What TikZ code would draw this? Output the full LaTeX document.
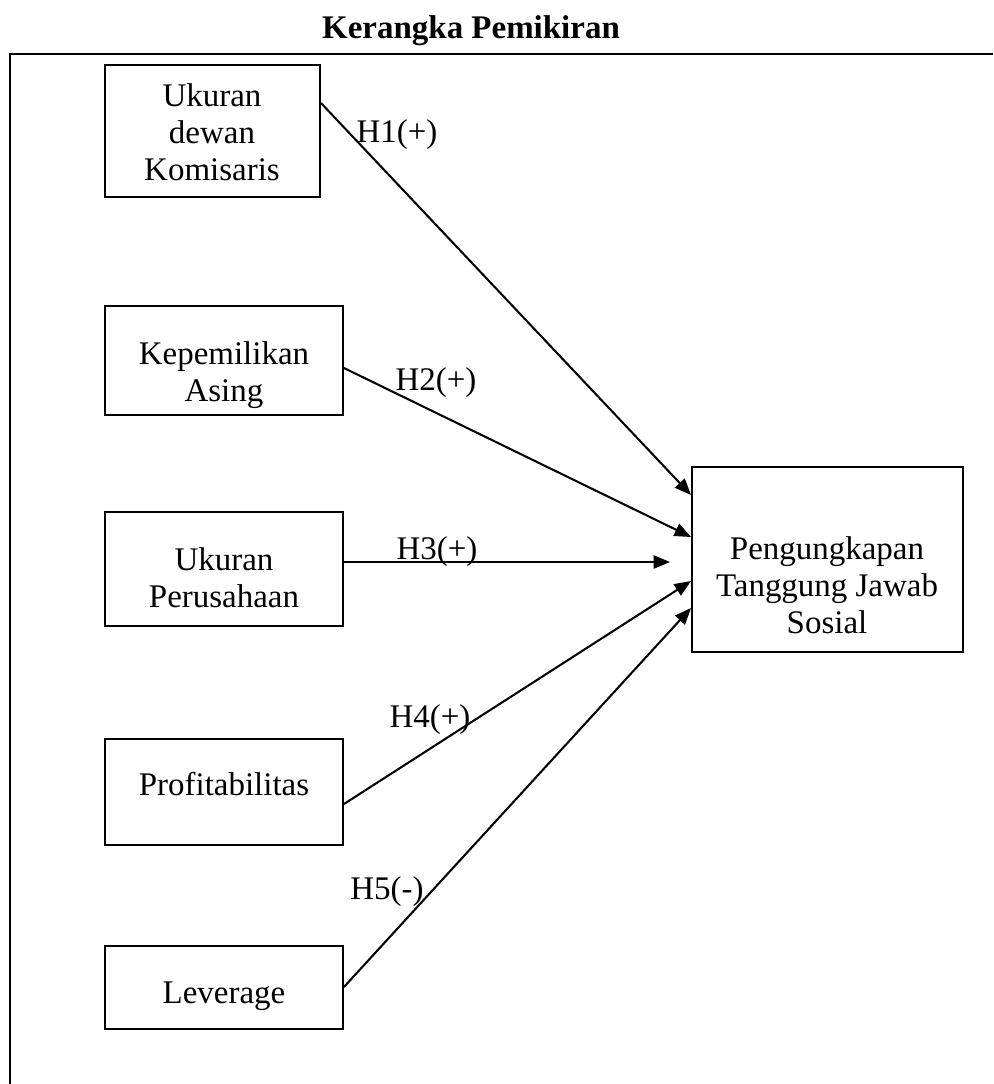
\documentclass[tikz,border=0pt]{standalone}
\usepackage{fontspec}
\setmainfont{Liberation Serif}
\usetikzlibrary{arrows.meta,positioning,fit,calc}

\begin{document}
\begin{tikzpicture}[x=0.364pt,y=-0.364pt,
    kotak/.style={draw,line width=0.7pt,inner sep=0pt},
    teks/.style={align=center,inner sep=0pt,font=\fontsize{12pt}{13.4pt}\selectfont},
    panah/.style={line width=0.75pt,-{Triangle[length=6pt,width=4.8pt]}}]
    \useasboundingbox (0,0) rectangle (993,1084);
    % Frame
    \draw[line width=1pt] (993,54) -- (10,54) -- (10,1084);
    % Title
    \node[teks,font=\bfseries\fontsize{12pt}{13.4pt}\selectfont] (judul) at (471,31) {Kerangka Pemikiran};

    % Independent variables
    \node[kotak,fit={(105,65) (320,197)}] (dewan) {};
    \node[teks] (dewantxt) at (212,132) {Ukuran\\dewan\\Komisaris};
    \node[kotak,fit={(105,306) (343,415)}] (asing) {};
    \node[teks] (asingtxt) at (224,375) {Kepemilikan\\Asing};
    \node[kotak,fit={(105,512) (343,626)}] (ukuran) {};
    \node[teks] (ukurantxt) at (224,578) {Ukuran\\Perusahaan};
    \node[kotak,fit={(105,739) (343,845)}] (profit) {};
    \node[teks,anchor=base] (profittxt) at (224,795) {Profitabilitas};
    \node[kotak,fit={(105,946) (343,1029)}] (lev) {};
    \node[teks,anchor=base] (levtxt) at (224,1003) {Leverage};

    % Dependent variable
    \node[kotak,fit={(692,467) (963,652)}] (csr) {};
    \node[teks] (csrtxt) at (827,585) {Pengungkapan\\Tanggung Jawab\\Sosial};

    % Hypotheses
    \draw[panah] ($(dewan.east)+(0,-28)$) -- ($(csr.west)+(0,-64.5)$);
    \draw[panah] ($(asing.east)+(0,7.5)$) -- ($(csr.west)+(0,-22.5)$);
    \draw[panah] ($(ukuran.east)+(0,-7)$) -- ($(csr.west)+(-21,2.5)$);
    \draw[panah] ($(profit.east)+(0,12)$) -- ($(csr.west)+(0,21.5)$);
    \draw[panah] ($(lev.east)+(0,-0.5)$) -- ($(csr.west)+(0,48.5)$);

    \node[teks,anchor=base] (h1) at (397,142) {H1(+)};
    \node[teks,anchor=base] (h2) at (436,390) {H2(+)};
    \node[teks,anchor=base] (h3) at (437,559) {H3(+)};
    \node[teks,anchor=base] (h4) at (430,727) {H4(+)};
    \node[teks,anchor=base] (h5) at (387,899) {H5(-)};
\end{tikzpicture}
\end{document}
